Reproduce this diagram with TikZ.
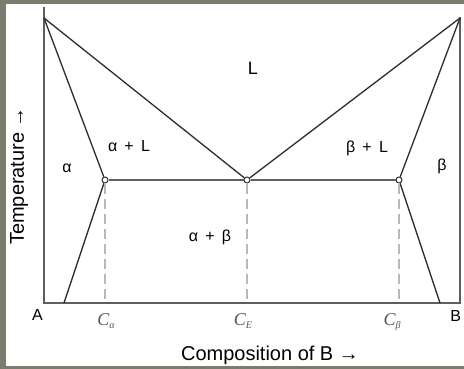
\documentclass[tikz,border=0pt]{standalone}
\usepackage{fontspec}
\setmainfont{Liberation Sans}
\newfontfamily\compfont{Liberation Serif}
\usetikzlibrary{positioning}
\definecolor{framegray}{RGB}{122,124,110}
\definecolor{axisgray}{RGB}{95,95,95}
\definecolor{curvegray}{RGB}{45,45,45}
\definecolor{dashgray}{RGB}{185,185,185}
\definecolor{labelgray}{RGB}{85,85,85}
\newcommand{\gap}{\hspace{0.45em}}
\newcommand{\compsub}[1]{\raisebox{-3.5pt}{\fontsize{10}{12}\selectfont #1}}

\begin{document}
\begin{tikzpicture}[x=1pt, y=-1pt,
    curve/.style={draw=curvegray, line width=1.3pt},
    axisline/.style={draw=axisgray, line width=2pt},
    tieline/.style={draw=axisgray, line width=2.2pt},
    dropline/.style={draw=dashgray, line width=1.2pt, dash pattern=on 10pt off 5pt},
    eutpoint/.style={draw=curvegray, fill=white, circle, inner sep=0pt, minimum size=6pt, line width=1pt},
    region/.style={font=\fontsize{16}{18}\selectfont, anchor=base},
    comp/.style={text=labelgray, font=\compfont\itshape\fontsize{18}{21}\selectfont, anchor=base}]
    \fill[framegray] (0,0) rectangle (464,369);
    \useasboundingbox (0,0) rectangle (464,369);
    \fill[white] (6,4) rectangle (464,366);

    % corners and ends
    \coordinate (topA) at (44,7);
    \coordinate (orgA) at (44,303);
    \coordinate (orgB) at (460,303);
    \coordinate (topB) at (460,17);
    \coordinate (meltA) at (44,18);
    \coordinate (meltB) at (460,18);
    \coordinate (footA) at (64,303);
    \coordinate (footB) at (440,303);
    \coordinate (dropA) at (105,303);
    \coordinate (dropE) at (247,303);
    \coordinate (dropB) at (399,303);

    \node[eutpoint] (ea) at (105,180) {};
    \node[eutpoint] (ee) at (247,180) {};
    \node[eutpoint] (eb) at (399,180) {};

    % axes
    \draw[axisline] (topA) -- (orgA) -- (orgB) -- (topB);

    % liquidus, solidus, solvus
    \draw[curve] (meltA) -- (ee) -- (meltB);
    \draw[curve] (meltA) -- (ea) -- (footA);
    \draw[curve] (meltB) -- (eb) -- (footB);
    \draw[tieline] (ea) -- (ee) -- (eb);

    \draw[dropline] (ea) -- (dropA);
    \draw[dropline] (ee) -- (dropE);
    \draw[dropline] (eb) -- (dropB);

    % phase regions
    \node[font=\fontsize{18}{20}\selectfont] (liq) at (253,68) {L};
    \node[region] (alphaliq) at (129,152) {α\gap+\gap L};
    \node[region] (betaliq) at (367,153) {β\gap+\gap L};
    \node[region] (alpha) at (67,172) {α};
    \node[region] (beta) at (442,171) {β};
    \node[region] (alphabeta) at (210,241) {α\gap+\gap β};

    % axis labels
    \node[font=\fontsize{16}{18}\selectfont, anchor=base] (endA) at (37.5,320) {A};
    \node[font=\fontsize{16}{18}\selectfont, anchor=base east] (endB) at (464.5,321) {B};
    \node[comp] (ca) at (106,325) {C\compsub{α}};
    \node[comp] (ce) at (243,325) {C\compsub{E}};
    \node[comp] (cb) at (392,325) {C\compsub{β}};
    \node[font=\fontsize{20}{22}\selectfont, anchor=base] (xlab) at (270,360) {Composition of B →};
    \node[font=\fontsize{20}{22}\selectfont, rotate=90] (ylab) at (19,176) {Temperature →};
\end{tikzpicture}
\end{document}
